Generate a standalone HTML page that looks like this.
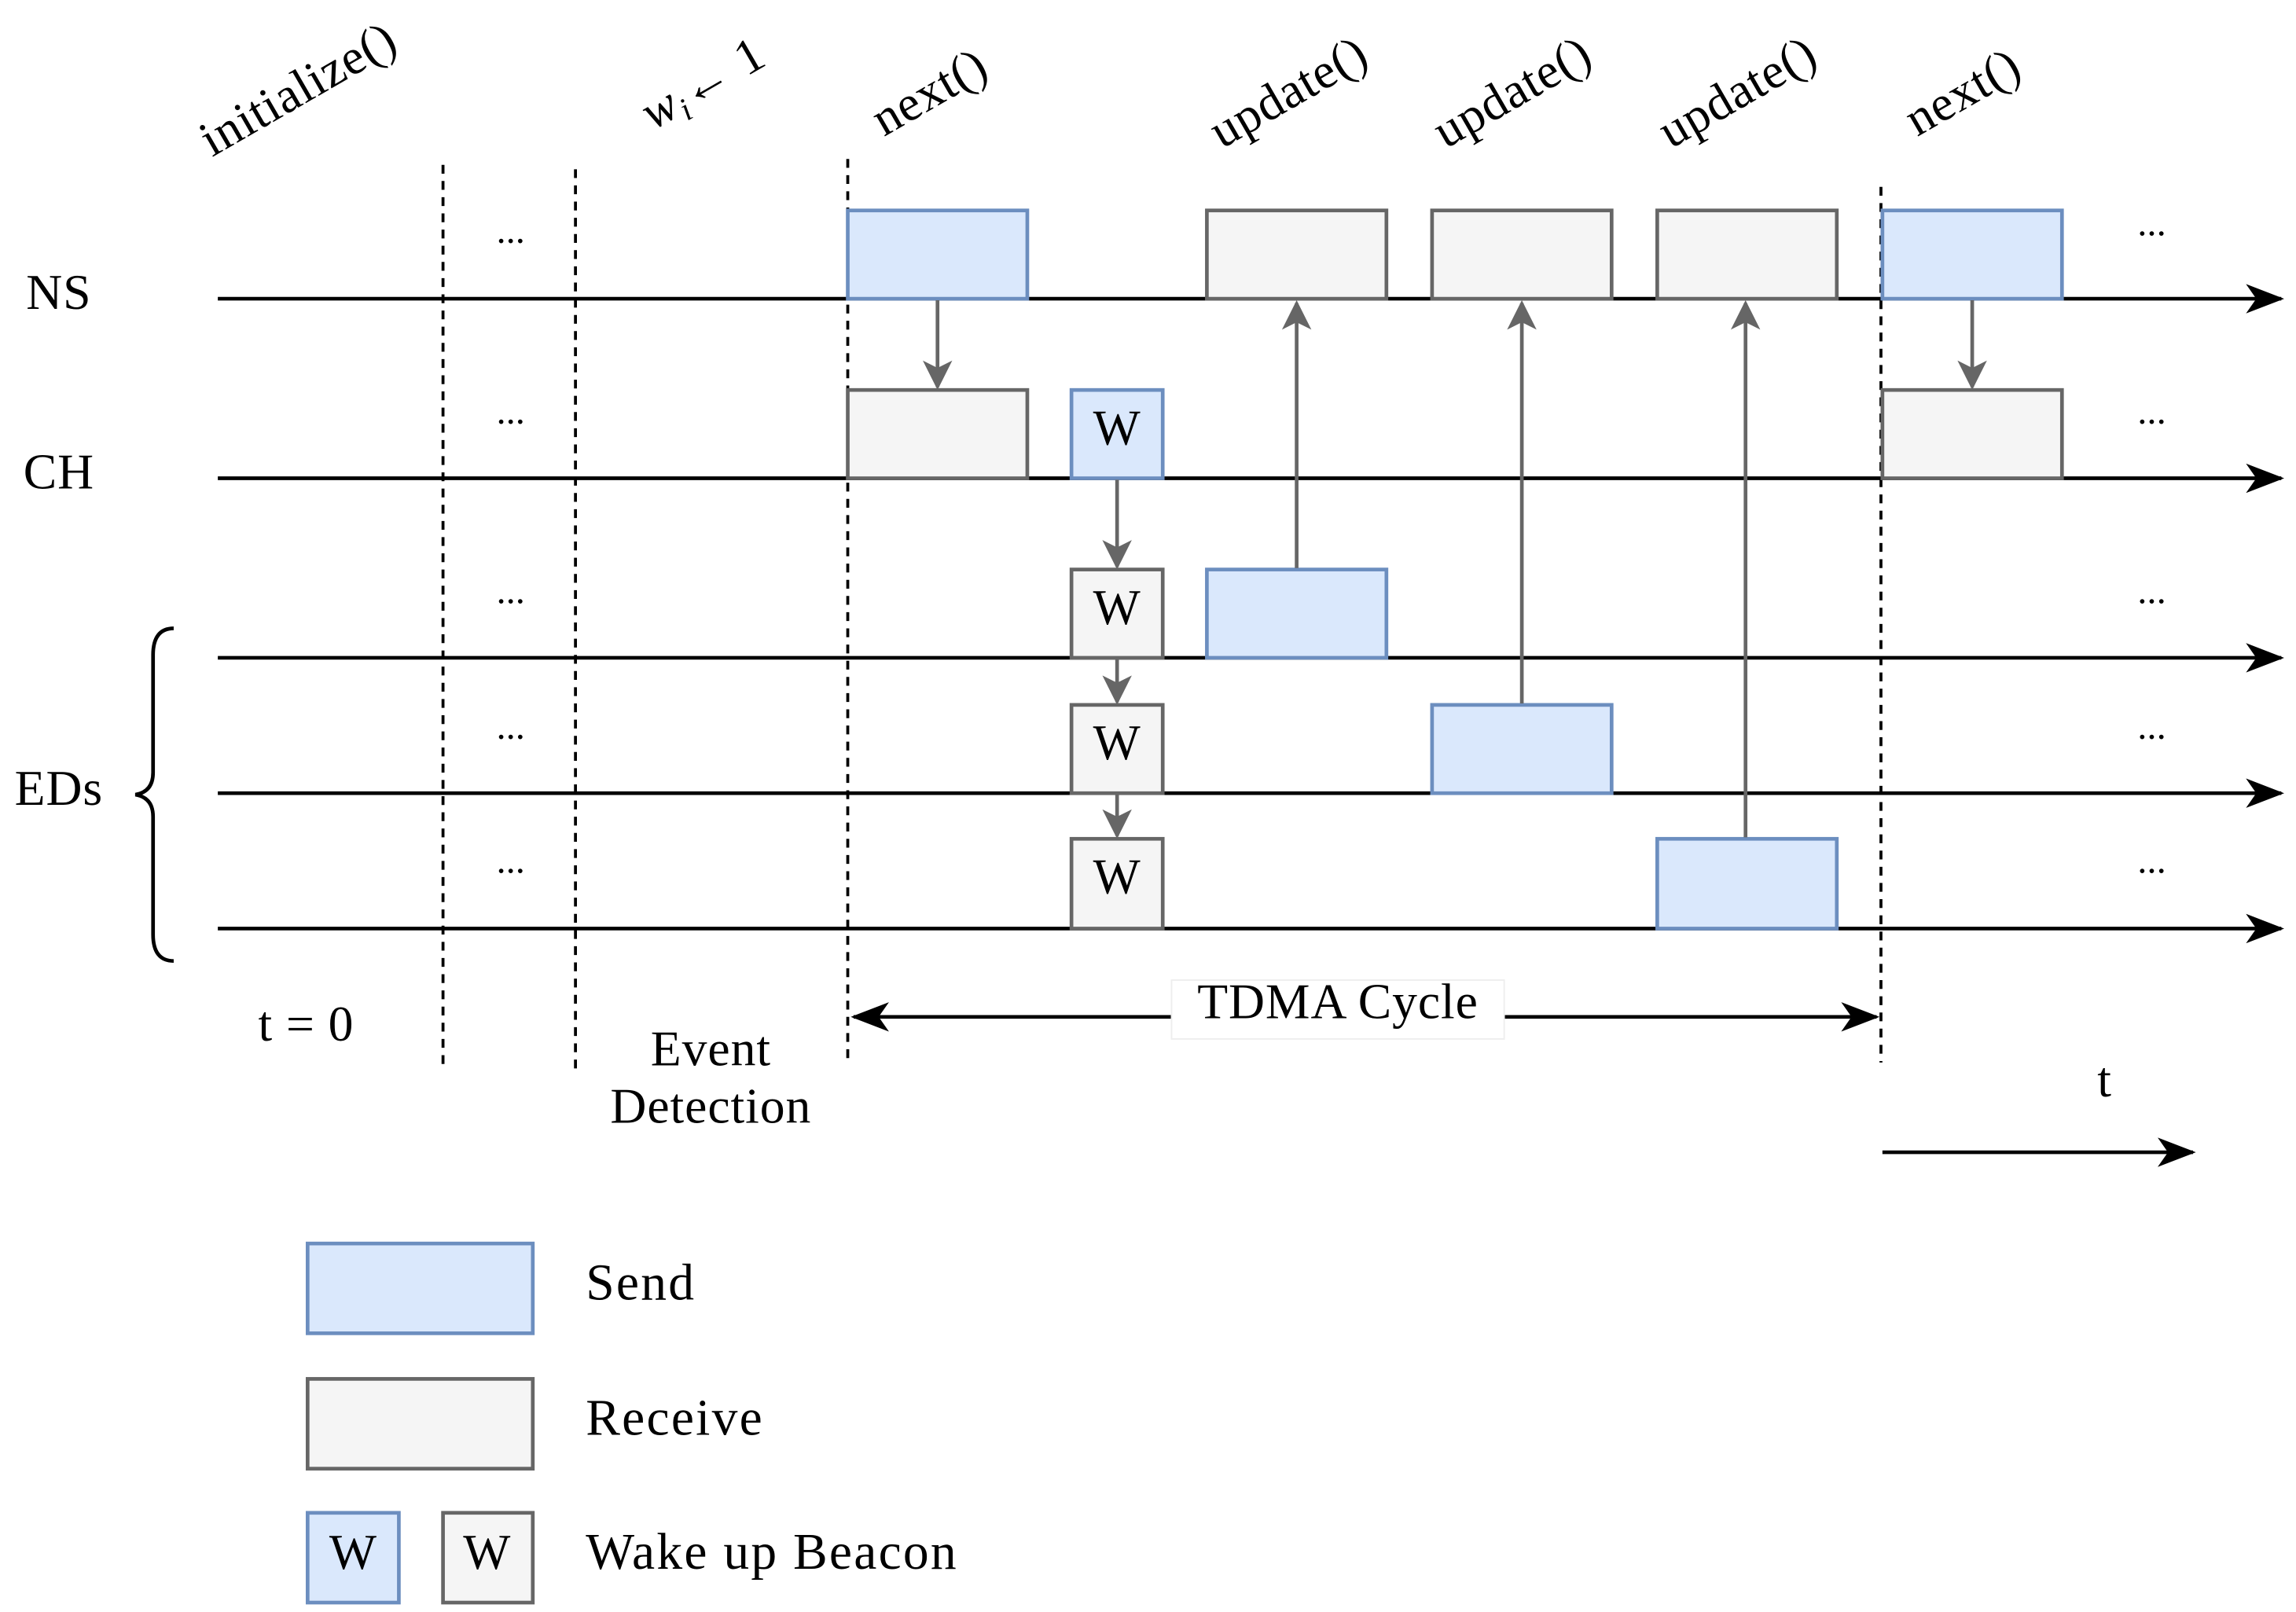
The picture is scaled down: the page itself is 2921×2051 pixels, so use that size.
<!DOCTYPE html>
<html><head><meta charset="utf-8"><style>html,body{margin:0;padding:0;background:#fff}svg{display:block}text{font-family:"Liberation Serif",serif;fill:#000}</style></head>
<body>
<svg width="2921" height="2051" viewBox="0 0 1560 1095.4" preserveAspectRatio="none" xmlns="http://www.w3.org/2000/svg">
<defs>
<marker id="ak" markerWidth="26" markerHeight="20" refX="24" refY="10" orient="auto-start-reverse" markerUnits="userSpaceOnUse"><path d="M0,0 L26,10 L0,20 L7,10z" fill="#000"/></marker>
<marker id="gh" markerWidth="20" markerHeight="20" refX="18" refY="10" orient="auto" markerUnits="userSpaceOnUse"><path d="M0,0 L20,10 L0,20 L5,10z" fill="#666"/></marker>
</defs>
<g stroke="#000" stroke-width="2.5" fill="none">
<line x1="148" y1="203" x2="1550" y2="203" marker-end="url(#ak)"/>
<line x1="148" y1="325" x2="1550" y2="325" marker-end="url(#ak)"/>
<line x1="148" y1="447" x2="1550" y2="447" marker-end="url(#ak)"/>
<line x1="148" y1="539" x2="1550" y2="539" marker-end="url(#ak)"/>
<line x1="148" y1="631" x2="1550" y2="631" marker-end="url(#ak)"/>
<line x1="1279" y1="783" x2="1490" y2="783" marker-end="url(#ak)"/>
<line x1="580" y1="691" x2="1275" y2="691" marker-start="url(#ak)" marker-end="url(#ak)"/>
</g>
<g stroke="#000" stroke-width="2" stroke-dasharray="6,5">
<line x1="301" y1="112" x2="301" y2="725"/>
<line x1="391" y1="115" x2="391" y2="728"/>
<line x1="576" y1="108" x2="576" y2="722"/>
<line x1="1278" y1="127" x2="1278" y2="722"/>
</g>
<g stroke-width="2.5">
<g fill="#dae8fc" stroke="#6c8ebf">
<rect x="576" y="143" width="122" height="60"/><rect x="1279" y="143" width="122" height="60"/>
<rect x="728" y="265" width="62" height="60"/>
<rect x="820" y="387" width="122" height="60"/><rect x="973" y="479" width="122" height="60"/><rect x="1126" y="570" width="122" height="61"/>
<rect x="209" y="845" width="153" height="61"/><rect x="209" y="1028" width="62" height="61"/>
</g>
<g fill="#f5f5f5" stroke="#666">
<rect x="820" y="143" width="122" height="60"/><rect x="973" y="143" width="122" height="60"/><rect x="1126" y="143" width="122" height="60"/>
<rect x="576" y="265" width="122" height="60"/><rect x="1279" y="265" width="122" height="60"/>
<rect x="728" y="387" width="62" height="60"/><rect x="728" y="479" width="62" height="60"/><rect x="728" y="570" width="62" height="61"/>
<rect x="209" y="937" width="153" height="61"/><rect x="301" y="1028" width="61" height="61"/>
</g>
</g>
<g stroke="#666" stroke-width="2.5" fill="none">
<line x1="637" y1="204" x2="637" y2="263" marker-end="url(#gh)"/>
<line x1="1340" y1="204" x2="1340" y2="263" marker-end="url(#gh)"/>
<line x1="759" y1="326" x2="759" y2="385" marker-end="url(#gh)"/>
<line x1="759" y1="448" x2="759" y2="477" marker-end="url(#gh)"/>
<line x1="759" y1="540" x2="759" y2="568" marker-end="url(#gh)"/>
<line x1="881" y1="386" x2="881" y2="206" marker-end="url(#gh)"/>
<line x1="1034" y1="478" x2="1034" y2="206" marker-end="url(#gh)"/>
<line x1="1186" y1="569" x2="1186" y2="206" marker-end="url(#gh)"/>
</g>
<path d="M118,427 Q104,427 104,445 L104,525 Q104,538 92,540 Q104,542 104,555 L104,635 Q104,653 118,653" stroke="#000" stroke-width="2.5" fill="none"/>
<rect x="796" y="666" width="226" height="40" fill="#fff" stroke="#eee"/>
<g font-size="34" text-anchor="middle" letter-spacing="0.5">
<text x="40" y="210">NS</text><text x="40" y="332">CH</text><text x="40" y="547">EDs</text>
<text x="759" y="302">W</text><text x="759" y="424">W</text><text x="759" y="516">W</text><text x="759" y="607">W</text>
<text x="240" y="1066">W</text><text x="331" y="1066">W</text>
<text x="208" y="707">t = 0</text>
<text x="483" y="724">Event</text><text x="483" y="763">Detection</text>
<text x="909" y="692">TDMA Cycle</text>
<text x="1430" y="745">t</text>
</g>
<g font-size="26" text-anchor="middle">
<text x="347" y="165">...</text><text x="347" y="288">...</text><text x="347" y="410">...</text><text x="347" y="502">...</text><text x="347" y="593">...</text>
<text x="1462" y="160">...</text><text x="1462" y="288">...</text><text x="1462" y="410">...</text><text x="1462" y="502">...</text><text x="1462" y="593">...</text>
</g>
<g font-size="35" letter-spacing="1.2">
<text x="398" y="883">Send</text><text x="398" y="975">Receive</text><text x="398" y="1066">Wake up Beacon</text>
</g>
<g font-size="34" text-anchor="middle" letter-spacing="0.5">
<text transform="translate(208,70) rotate(-30)">initialize()</text>
<text transform="translate(483,66) rotate(-30)"><tspan font-style="italic">w</tspan><tspan font-style="italic" font-size="22" dy="6">i</tspan><tspan dy="-6">← 1</tspan></text>
<text transform="translate(637,72) rotate(-30)">next()</text>
<text transform="translate(881,72) rotate(-30)">update()</text>
<text transform="translate(1033,72) rotate(-30)">update()</text>
<text transform="translate(1186,72) rotate(-30)">update()</text>
<text transform="translate(1339,72) rotate(-30)">next()</text>
</g>
</svg>
</body></html>
